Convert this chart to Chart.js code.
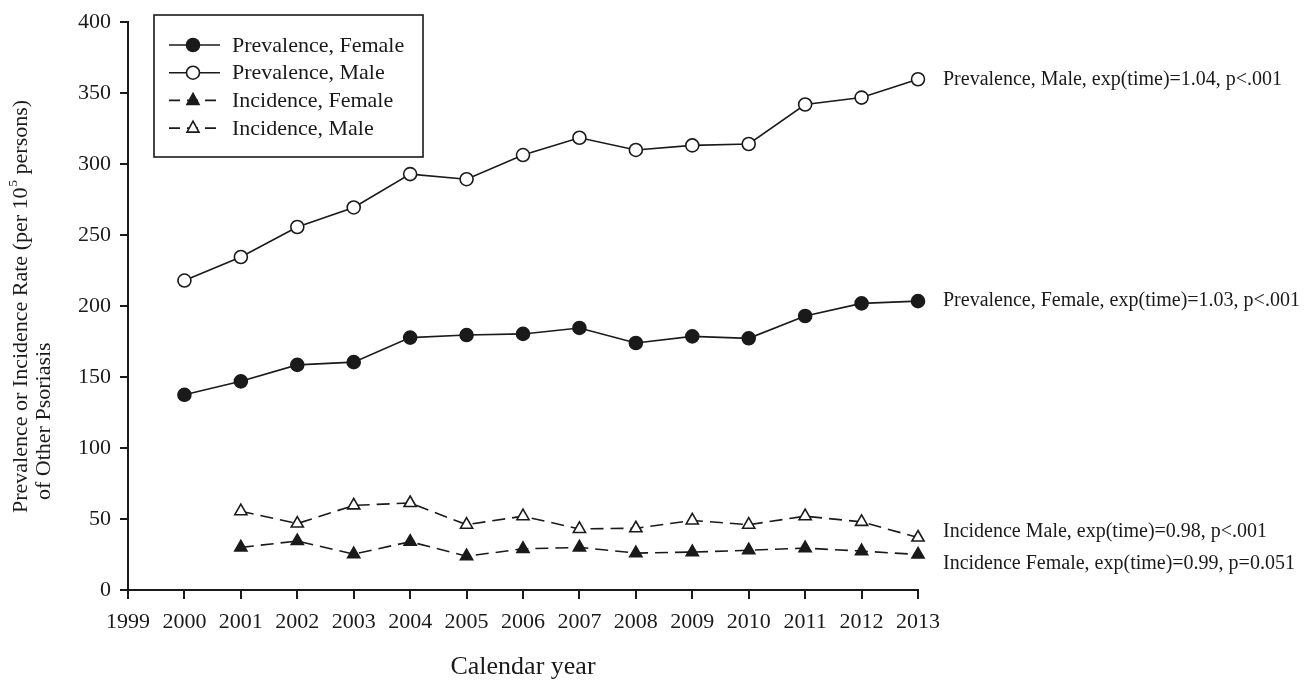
<!DOCTYPE html>
<html>
<head>
<meta charset="utf-8">
<script src="https://cdn.jsdelivr.net/npm/chart.js@4.4.1/dist/chart.umd.min.js"></script>
<style>
  html, body { margin: 0; padding: 0; background: #fff; }
  #wrap { width: 1314px; height: 683px; }
</style>
</head>
<body>
<div id="wrap"><canvas id="chart" width="1314" height="683"></canvas></div>
<script>
// data
const years = [2000, 2001, 2002, 2003, 2004, 2005, 2006, 2007, 2008, 2009, 2010, 2011, 2012, 2013];
const prevFemale = [137.5, 147, 158.6, 160.5, 177.8, 179.6, 180.4, 184.6, 174, 178.7, 177.3, 193, 201.9, 203.5];
const prevMale = [218, 234.6, 255.7, 269.5, 293, 289.4, 306.4, 318.6, 310, 313.2, 314.2, 342, 346.9, 359.8];
const incFemale = [null, 30, 34.5, 25.3, 34, 23.8, 29, 30, 26, 26.7, 28, 29.5, 27.4, 25];
const incMale = [null, 55.5, 46.8, 59.6, 61.3, 46, 52, 43, 43.5, 49, 46, 52, 48, 37];
const seriesNames = ['Prevalence, Female', 'Prevalence, Male', 'Incidence, Female', 'Incidence, Male'];
const endLabels = [
  'Prevalence, Female, exp(time)=1.03, p<.001',
  'Prevalence, Male, exp(time)=1.04, p<.001',
  'Incidence Female, exp(time)=0.99, p=0.051',
  'Incidence Male, exp(time)=0.98, p<.001'
];
const yTicks = [0, 50, 100, 150, 200, 250, 300, 350, 400];

const serif = "'Liberation Serif', 'Times New Roman', serif";
const ink = '#1a1a1a';

function pts(arr) {
  return years.map((y, i) => ({ x: y, y: arr[i] }));
}

const base = {
  borderColor: ink,
  borderWidth: 1.6,
  pointRadius: 6.5,
  pointHoverRadius: 6.5,
  pointBorderWidth: 1.6,
  pointBorderColor: ink,
  tension: 0,
  clip: false
};

const datasets = [
  Object.assign({}, base, { label: seriesNames[0], data: pts(prevFemale), pointStyle: 'circle', pointBackgroundColor: ink }),
  Object.assign({}, base, { label: seriesNames[1], data: pts(prevMale), pointStyle: 'circle', pointBackgroundColor: '#fff' }),
  Object.assign({}, base, { label: seriesNames[2], data: pts(incFemale), pointStyle: 'triangle', pointRadius: 7, pointBackgroundColor: ink, borderDash: [13, 7] }),
  Object.assign({}, base, { label: seriesNames[3], data: pts(incMale), pointStyle: 'triangle', pointRadius: 7, pointBackgroundColor: '#fff', borderDash: [13, 7] })
];

// legend box drawn like the original (line + marker sample)
const boxLegend = {
  id: 'boxLegend',
  afterDraw(chart) {
    const ctx = chart.ctx;
    const bx = 154, by = 15, bw = 269, bh = 142;
    ctx.save();
    ctx.fillStyle = '#fff';
    ctx.fillRect(bx, by, bw, bh);
    ctx.strokeStyle = ink;
    ctx.lineWidth = 1.6;
    ctx.strokeRect(bx, by, bw, bh);
    ctx.font = '22px ' + serif;
    ctx.textBaseline = 'middle';
    chart.data.datasets.forEach((ds, i) => {
      const y = 45 + i * 27.7;
      ctx.strokeStyle = ink;
      ctx.lineWidth = 1.6;
      ctx.setLineDash(ds.borderDash ? [11, 7] : []);
      ctx.beginPath();
      ctx.moveTo(169, y);
      ctx.lineTo(220, y);
      ctx.stroke();
      ctx.setLineDash([]);
      ctx.fillStyle = ds.pointBackgroundColor;
      ctx.beginPath();
      if (ds.pointStyle === 'circle') {
        ctx.arc(193, y, 6.5, 0, Math.PI * 2);
      } else {
        ctx.moveTo(193, y - 7);
        ctx.lineTo(199, y + 4);
        ctx.lineTo(187, y + 4);
        ctx.closePath();
      }
      ctx.fill();
      ctx.stroke();
      ctx.fillStyle = ink;
      ctx.fillText(ds.label, 232, y + 1);
    });
    ctx.restore();
  }
};

// text at the end of each series
const endText = {
  id: 'endText',
  afterDraw(chart) {
    const ctx = chart.ctx;
    const xs = chart.scales.x, ys = chart.scales.y;
    const last = years.length - 1;
    const nudges = [0, 0, 9, -6];
    ctx.save();
    ctx.font = '20px ' + serif;
    ctx.fillStyle = ink;
    ctx.textBaseline = 'middle';
    chart.data.datasets.forEach((ds, i) => {
      const px = xs.getPixelForValue(years[last]) + 25;
      const py = ys.getPixelForValue(ds.data[last].y) + nudges[i];
      ctx.fillText(endLabels[i], px, py);
    });
    ctx.restore();
  }
};

// two-line rotated y title with a superscript 5
const yTitle = {
  id: 'yTitle',
  afterDraw(chart) {
    const ctx = chart.ctx;
    const big = '22px ' + serif, small = '13px ' + serif;
    ctx.save();
    ctx.fillStyle = ink;
    ctx.textBaseline = 'middle';
    ctx.translate(21, 513);
    ctx.rotate(-Math.PI / 2);
    const parts = ['Prevalence or Incidence Rate (per 10', '5', ' persons)'];
    let x = 0;
    ctx.font = big;
    ctx.fillText(parts[0], x, 0);
    x += ctx.measureText(parts[0]).width;
    ctx.font = small;
    ctx.fillText(parts[1], x + 1, -7);
    x += ctx.measureText(parts[1]).width + 1;
    ctx.font = big;
    ctx.fillText(parts[2], x, 0);
    ctx.restore();
    ctx.save();
    ctx.fillStyle = ink;
    ctx.textBaseline = 'middle';
    ctx.font = big;
    ctx.translate(44, 500);
    ctx.rotate(-Math.PI / 2);
    ctx.fillText('of Other Psoriasis', 0, 0);
    ctx.restore();
  }
};

new Chart(document.getElementById('chart'), {
  type: 'line',
  data: { datasets },
  options: {
    responsive: false,
    animation: false,
    layout: { padding: { left: 8, right: 396, top: 20, bottom: 0 } },
    plugins: {
      legend: { display: false },
      tooltip: { enabled: false }
    },
    scales: {
      x: {
        type: 'linear',
        min: 1999,
        max: 2013,
        afterFit: s => { s.height = 93; },
        border: { color: ink, width: 2 },
        grid: { drawOnChartArea: false, drawTicks: true, tickLength: 9, color: ink, lineWidth: 2 },
        ticks: {
          stepSize: 1,
          color: ink,
          padding: 10,
          maxRotation: 0,
          autoSkip: false,
          font: { family: serif, size: 22 },
          callback: v => String(v)
        },
        title: {
          display: true,
          text: 'Calendar year',
          color: ink,
          font: { family: serif, size: 26 },
          padding: { top: 0, bottom: 0 }
        }
      },
      y: {
        min: 0,
        max: 400,
        afterFit: s => { s.width = 120; },
        afterBuildTicks: s => { s.ticks = yTicks.map(v => ({ value: v })); },
        border: { color: ink, width: 2 },
        grid: { drawOnChartArea: false, drawTicks: true, tickLength: 8, color: ink, lineWidth: 2 },
        ticks: {
          color: ink,
          padding: 9,
          font: { family: serif, size: 22 }
        }
      }
    }
  },
  plugins: [boxLegend, endText, yTitle]
});
</script>
</body>
</html>
